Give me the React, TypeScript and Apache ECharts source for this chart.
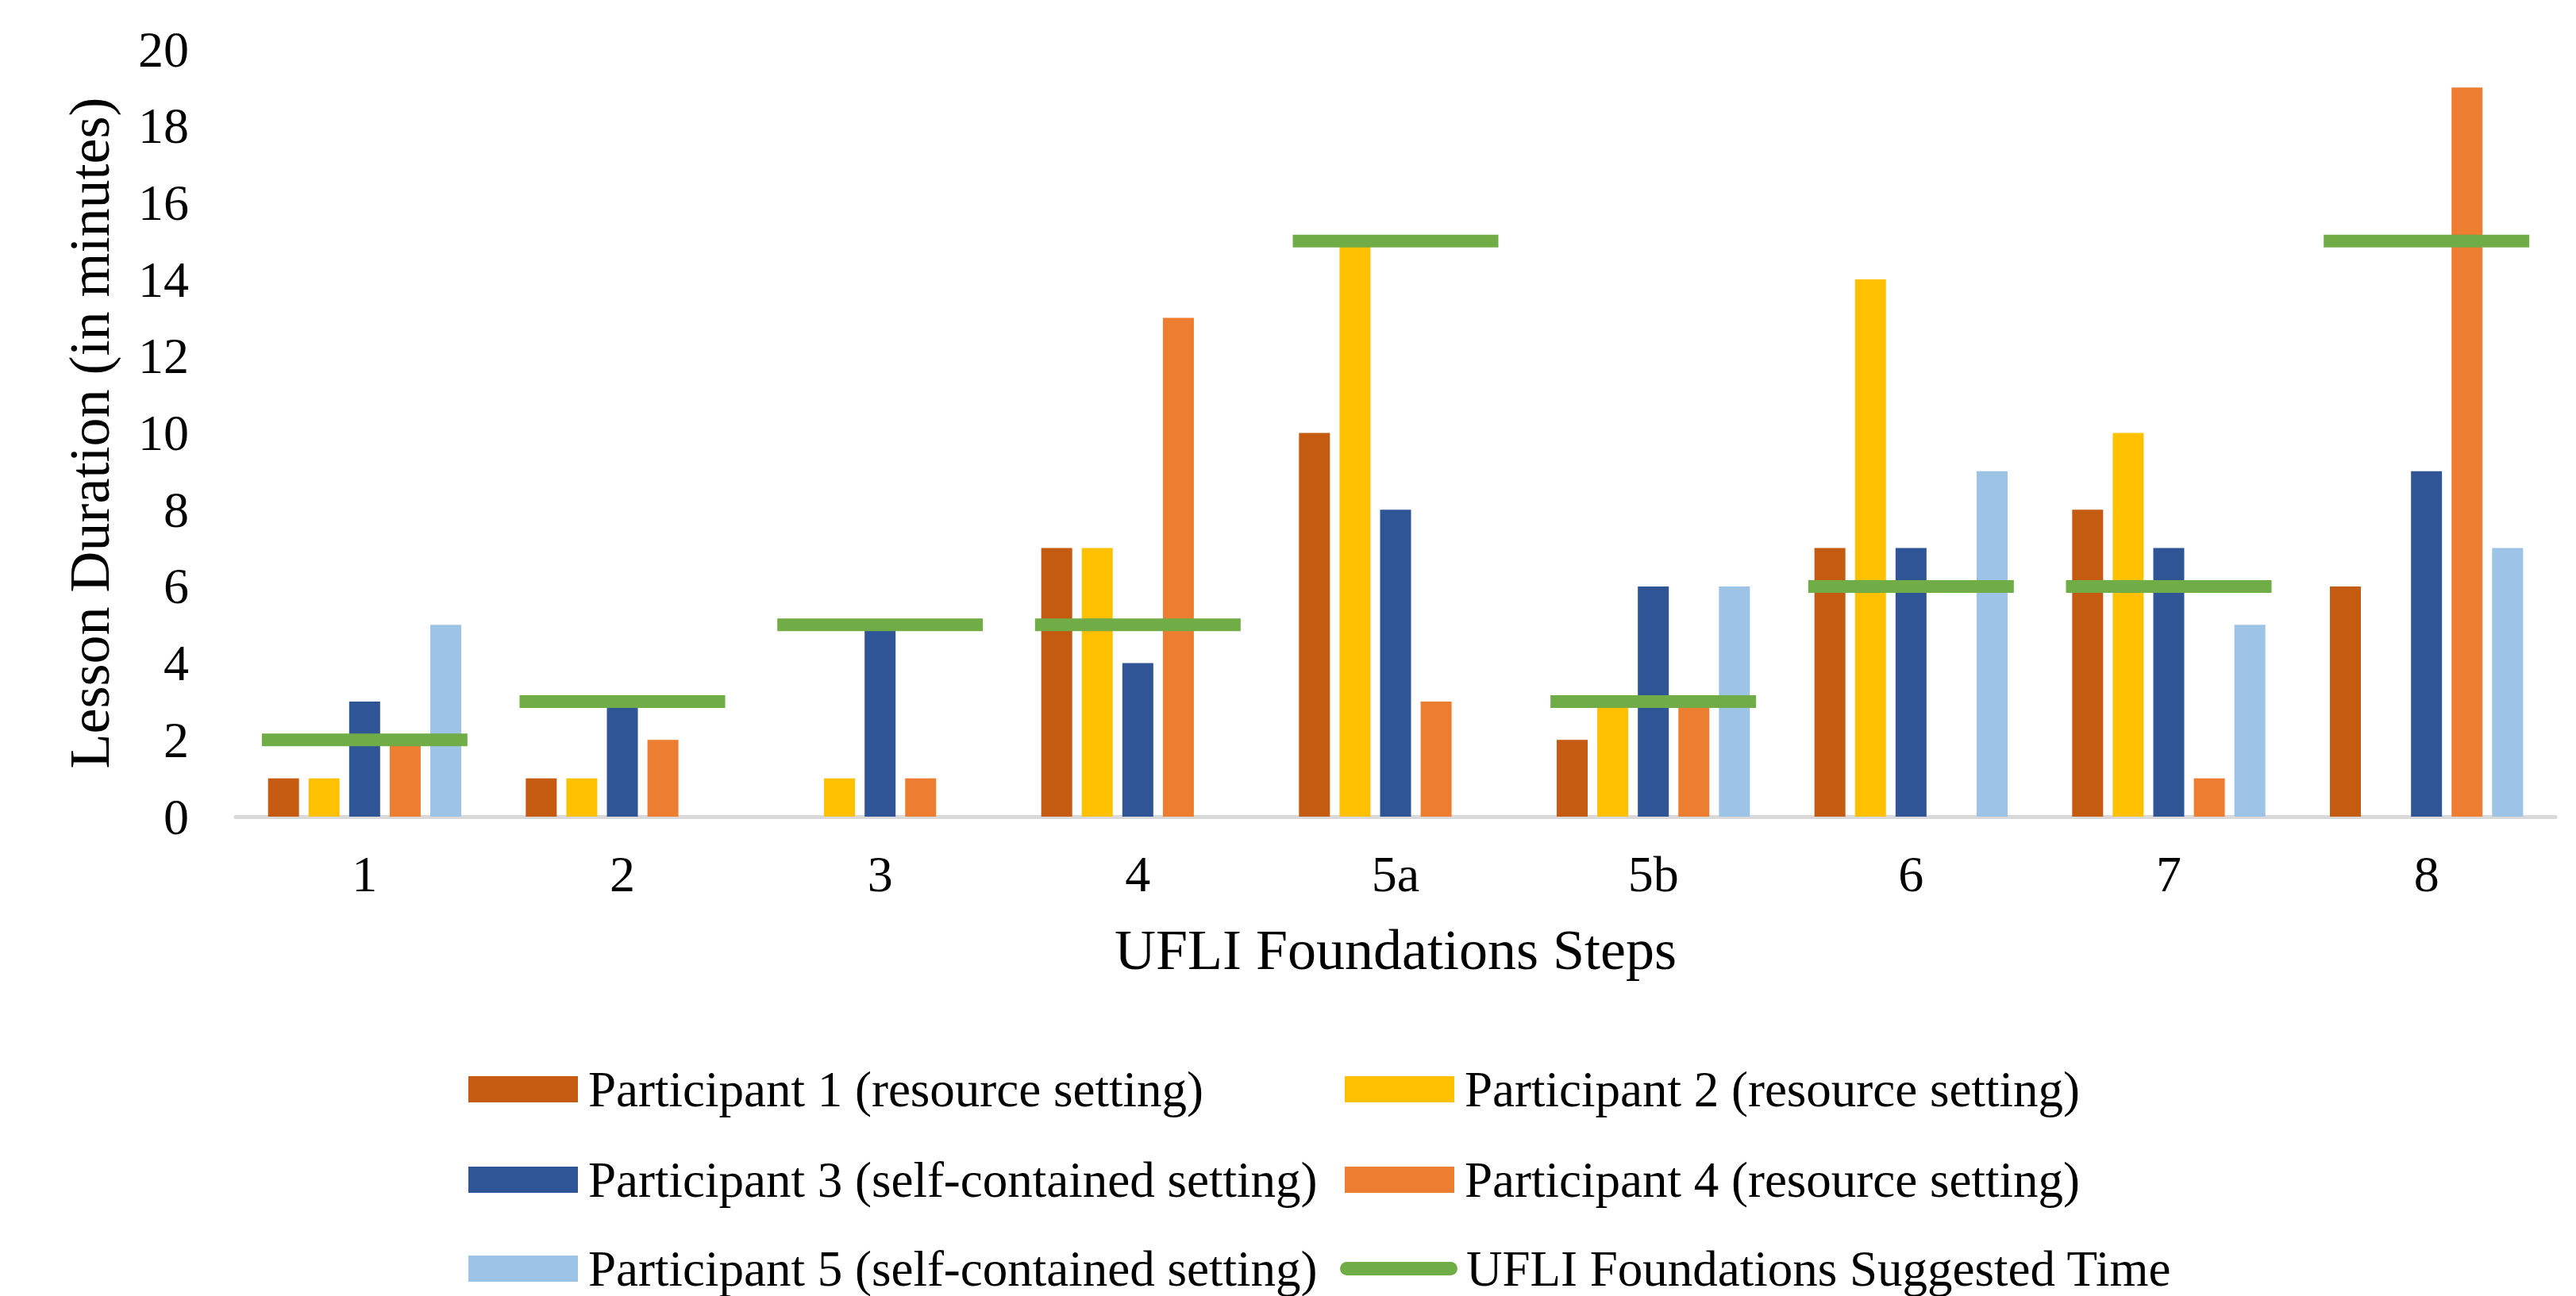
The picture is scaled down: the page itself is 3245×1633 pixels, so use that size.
import React, { useEffect, useRef } from "react";
import * as echarts from "echarts";

const categories = ["1", "2", "3", "4", "5a", "5b", "6", "7", "8"];
const seriesNames = [
  "Participant 1 (resource setting)",
  "Participant 2 (resource setting)",
  "Participant 3 (self-contained setting)",
  "Participant 4 (resource setting)",
  "Participant 5 (self-contained setting)",
];
const suggestedName = "UFLI Foundations Suggested Time";
const p1 = [1, 1, 0, 7, 10, 2, 7, 8, 6];
const p2 = [1, 1, 1, 7, 15, 3, 14, 10, 0];
const p3 = [3, 3, 5, 4, 8, 6, 7, 7, 9];
const p4 = [2, 2, 1, 13, 3, 3, 0, 1, 19];
const p5 = [5, 0, 0, 0, 0, 6, 9, 5, 7];
const suggested = [2, 3, 5, 5, 15, 3, 6, 6, 15];
const colors = ["#C55A11", "#FFC000", "#2F5597", "#ED7D31", "#9DC3E6"];
const green = "#70AD47";

const FONT = "Liberation Serif";

export default function App() {
  const ref = useRef<HTMLDivElement>(null);
  useEffect(() => {
    if (!ref.current) return;
    const chart = echarts.init(ref.current, null, { renderer: "svg" });
    const values = [p1, p2, p3, p4, p5];
    const textStyle = { fontFamily: FONT, fontSize: 63, color: "#000", lineHeight: 56, padding: [0, 0, 0, 8] };
    const rowCenters = [1369, 1483, 1595];
    const LH = 56;
    const legendItem = (name: string, left: number, row: number) => ({
      left,
      top: rowCenters[row] - LH / 2,
      padding: 0,
      itemWidth: 138,
      itemHeight: 33,
      selectedMode: false,
      icon: "rect",
      textStyle,
      data: [name],
    });
    chart.setOption({
      animation: false,
      backgroundColor: "#fff",
      grid: { left: 297, right: 26, top: 62, bottom: 604, containLabel: false },
      xAxis: {
        type: "category",
        data: categories,
        name: "UFLI Foundations Steps",
        nameLocation: "middle",
        nameGap: 132,
        nameTextStyle: { fontFamily: FONT, fontSize: 72, color: "#000" },
        axisLine: { lineStyle: { color: "#D9D9D9", width: 5 } },
        axisTick: { show: false },
        axisLabel: { fontFamily: FONT, fontSize: 64, color: "#000", margin: 40 },
      },
      yAxis: {
        type: "value",
        min: 0,
        max: 20,
        interval: 2,
        name: "Lesson Duration (in minutes)",
        nameLocation: "middle",
        nameGap: 148,
        nameTextStyle: { fontFamily: FONT, fontSize: 72, color: "#000" },
        axisLine: { show: false },
        axisTick: { show: false },
        splitLine: { show: false },
        axisLabel: { fontFamily: FONT, fontSize: 64, color: "#000", margin: 59 },
      },
      legend: [
        legendItem(seriesNames[0], 590, 0),
        legendItem(seriesNames[1], 1694, 0),
        legendItem(seriesNames[2], 590, 1),
        legendItem(seriesNames[3], 1694, 1),
        legendItem(seriesNames[4], 590, 2),
        {
          left: 1688,
          top: rowCenters[2] - LH / 2,
          padding: 0,
          itemWidth: 148,
          itemHeight: 17,
          selectedMode: false,
          textStyle: { ...textStyle, padding: [0, 0, 0, 6] },
          data: [
            {
              name: suggestedName,
              icon: "path://M8.5,0 L139.5,0 A8.5,8.5 0 0 1 139.5,17 L8.5,17 A8.5,8.5 0 0 1 8.5,0 Z",
            },
          ],
        },
      ],
      series: [
        ...values.map((v, i) => ({
          name: seriesNames[i],
          type: "bar",
          data: v,
          barWidth: 39,
          barGap: "31%",
          itemStyle: { color: colors[i] },
        })),
        {
          name: suggestedName,
          type: "scatter",
          data: suggested,
          symbol: "rect",
          symbolSize: [259, 16],
          itemStyle: { color: green, opacity: 1 },
          z: 5,
        },
      ],
    });
    return () => chart.dispose();
  }, []);
  return (
    <div
      ref={ref}
      style={{ position: "absolute", left: 0, top: 0, width: 3245, height: 1633 }}
    />
  );
}
